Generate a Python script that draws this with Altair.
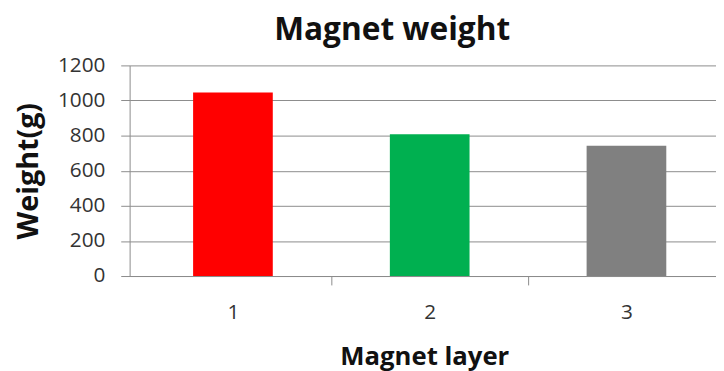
import altair as alt
import pandas as pd

layers = [1, 2, 3]
weights = [1045, 808, 742]
colors = ["#FF0000", "#00B050", "#808080"]

df = pd.DataFrame({"layer": layers, "weight": weights, "color": colors})

FONT = "Open Sans"
GRID = "#8c8c8c"
HALF_BAR = 0.2025  # half of bar width, in category units

chart = alt.Chart(df).transform_calculate(
    x0=f"datum.layer - {HALF_BAR}",
    x1=f"datum.layer + {HALF_BAR}",
).mark_bar(orient="vertical").encode(
    x=alt.X(
        "x0:Q",
        scale=alt.Scale(domain=[0.5, 3.43], nice=False, zero=False),
        axis=alt.Axis(
            title="Magnet layer",
            values=[1, 1.5, 2, 2.5, 3],
            format=".0f",
            labelExpr="datum.value % 1 == 0 ? datum.label : ''",
            labelAngle=0,
            tickSize=9,
            tickColor=GRID,
            tickOpacity={"condition": {"test": "datum.value % 1 != 0", "value": 1}, "value": 0},
            domainColor=GRID,
            labelFont=FONT,
            labelFontSize=21,
            labelColor="#333333",
            labelPadding=17,
            titleFont=FONT,
            titleFontSize=26,
            titleFontWeight="bold",
            titleColor="#111111",
            titleX=298,
            titleY=89,
            titleAlign="center",
            titleBaseline="alphabetic",
            grid=False,
        ),
    ),
    x2="x1:Q",
    y=alt.Y(
        "weight:Q",
        scale=alt.Scale(domain=[0, 1200], nice=False),
        axis=alt.Axis(
            title="Weight(g)",
            values=[0, 200, 400, 600, 800, 1000, 1200],
            format="d",
            tickSize=9,
            tickColor=GRID,
            domainColor=GRID,
            gridColor=GRID,
            gridOpacity=1,
            labelFont=FONT,
            labelFontSize=21,
            labelColor="#333333",
            labelPadding=16,
            titleFont=FONT,
            titleFontSize=29,
            titleFontWeight="bold",
            titleColor="#111111",
            titleX=-102,
            titleY=106.5,
            titleAngle=-90,
            titleAlign="center",
            titleBaseline="middle",
        ),
    ),
    y2=alt.datum(0),
    color=alt.Color("color:N", scale=None, legend=None),
).properties(
    width=593,
    height=213,
    padding={"left": 123, "top": 56, "right": 0, "bottom": 94},
    autosize=alt.AutoSizeParams(type="none"),
    title=alt.TitleParams(
        "Magnet weight",
        font=FONT,
        fontSize=32,
        fontWeight="bold",
        color="#111111",
        anchor="middle",
        dx=-31,
        offset=-17,
        baseline="alphabetic",
    ),
).configure_view(stroke=None)

chart.save("out.html", embed_options={"renderer": "svg", "actions": False})
